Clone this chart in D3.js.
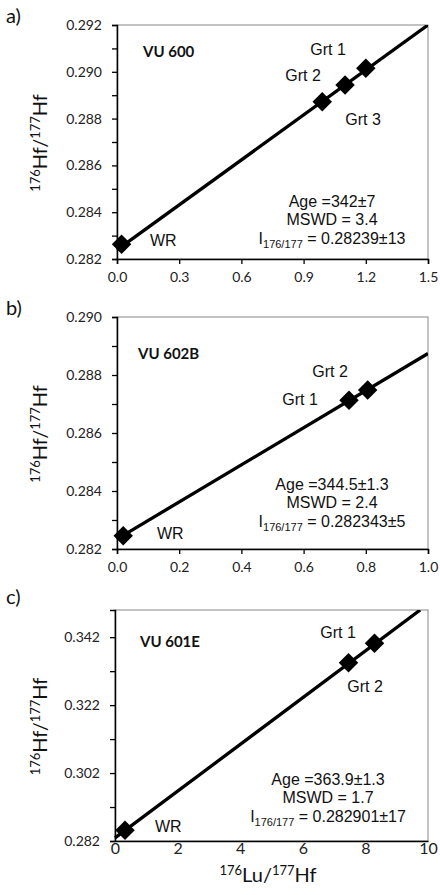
<!DOCTYPE html>
<html>
<head>
<meta charset="utf-8">
<script src="https://cdn.jsdelivr.net/npm/d3@7"></script>
<style>
  body { margin: 0; background: #fff; }
  .tick text { font-family: Lato, "Open Sans", sans-serif; font-size: 14px; fill: #222; }
  .big .tick text { font-size: 16px; }
  .note { font-family: "Liberation Sans", Arial, sans-serif; font-size: 16px; fill: #111; }
  .title { font-family: Lato, sans-serif; font-weight: bold; font-size: 15px; fill: #111; }
  .axtitle { font-family: Lato, "Open Sans", sans-serif; font-size: 20px; fill: #111; }
  .letter { font-family: Lato, "Open Sans", sans-serif; font-size: 20px; fill: #111; }
</style>
</head>
<body>
<div id="chart"></div>
<script>
// data
var samples = ["VU 600", "VU 602B", "VU 601E"];
var panelLetters = ["a)", "b)", "c)"];

var pointNames = [
  ["WR", "Grt 2", "Grt 3", "Grt 1"],
  ["WR", "Grt 1", "Grt 2"],
  ["WR", "Grt 2", "Grt 1"]
];
var luHf = [
  [0.022, 0.99, 1.10, 1.20],
  [0.02, 0.746, 0.806],
  [0.32, 7.46, 8.29]
];
var hfHf = [
  [0.28263, 0.28872, 0.28944, 0.29015],
  [0.28246, 0.28713, 0.28748],
  [0.28515, 0.33448, 0.34020]
];
// isochron line end points
var lineX = [[0.0, 1.5], [0.0, 1.0], [0.0, 9.75]];
var lineY = [[0.28239, 0.29200], [0.282343, 0.28874], [0.28290, 0.35000]];

var ages = ["342±7", "344.5±1.3", "363.9±1.3"];
var mswd = ["3.4", "2.4", "1.7"];
var initial = ["0.28239±13", "0.282343±5", "0.282901±17"];

var xDomains = [[0, 1.5], [0, 1.0], [0, 10]];
var yDomains = [[0.282, 0.292], [0.282, 0.290], [0.282, 0.350]];
var xTicks = [[0, 0.3, 0.6, 0.9, 1.2, 1.5], [0, 0.2, 0.4, 0.6, 0.8, 1.0], [0, 2, 4, 6, 8, 10]];
var yTicks = [
  [0.282, 0.283, 0.284, 0.285, 0.286, 0.287, 0.288, 0.289, 0.290, 0.291, 0.292],
  [0.282, 0.283, 0.284, 0.285, 0.286, 0.287, 0.288, 0.289, 0.290],
  [0.282, 0.292, 0.302, 0.312, 0.322, 0.332, 0.342]
];
var yLabelled = [
  [0.282, 0.284, 0.286, 0.288, 0.290, 0.292],
  [0.282, 0.284, 0.286, 0.288, 0.290],
  [0.282, 0.302, 0.322, 0.342]
];
var xFormats = [".1f", ".1f", "d"];

var svg = d3.select("#chart").append("svg")
  .attr("width", 440)
  .attr("height", 895);

// layout of the three panels
var boxes = [
  { left: 117, right: 428, top: 25, bottom: 259, letterY: 23 },
  { left: 117, right: 428, top: 317, bottom: 549, letterY: 315 },
  { left: 115, right: 428, top: 610, bottom: 841, letterY: 604 }
];
// text spots, relative to the plot's top-left corner
var spots = [
  { title: [26, 32], names: [[33, 221, "start"], [186, 56, "middle"], [246, 100, "middle"], [211, 30, "middle"]], note: [215, 182] },
  { title: [21, 42], names: [[40, 222, "start"], [183, 88, "middle"], [213, 60, "middle"]], note: [215, 173] },
  { title: [25, 37], names: [[40, 222, "start"], [250, 82, "middle"], [223, 28, "middle"]], note: [213, 175] }
];

var diamond = d3.symbol().type(d3.symbolSquare).size(190);

boxes.forEach(function(b, i) {
  var w = b.right - b.left, h = b.bottom - b.top;
  var g = svg.append("g").attr("transform", `translate(${b.left}, ${b.top})`);

  var x = d3.scaleLinear().domain(xDomains[i]).range([0, w]);
  var y = d3.scaleLinear().domain(yDomains[i]).range([h, 0]);

  // frame
  g.append("rect")
    .attr("x", 0).attr("y", 0).attr("width", w).attr("height", h)
    .style("fill", "none").style("stroke", "#888").style("stroke-width", 1);

  var fy = d3.format(".3f");
  var yAxis = g.append("g")
    .call(d3.axisLeft(y).tickValues(yTicks[i]).tickSize(5).tickPadding(10)
      .tickFormat(function(d) {
        var on = yLabelled[i].some(function(v) { return Math.abs(v - d) < 1e-7; });
        return on ? fy(d) : "";
      }));
  yAxis.select(".domain").style("stroke", "#000").style("stroke-width", 1.5);
  yAxis.selectAll(".tick line").style("stroke", "#000").style("stroke-width", 1.3);

  var xAxis = g.append("g")
    .classed("big", i === 2)
    .attr("transform", `translate(0, ${h})`)
    .call(d3.axisBottom(x).tickValues(xTicks[i]).tickSize(i === 2 ? 0 : 5)
      .tickPadding(i === 2 ? 2 : 8).tickFormat(d3.format(xFormats[i])));
  xAxis.select(".domain").style("stroke", "#000").style("stroke-width", 1.5);
  xAxis.selectAll(".tick line").style("stroke", "#000").style("stroke-width", 1.3);

  // isochron
  var clipId = "clip" + i;
  g.append("clipPath").attr("id", clipId)
    .append("rect").attr("x", -2).attr("y", 0).attr("width", w + 2).attr("height", h);
  var pts = lineX[i].map(function(v, k) { return [v, lineY[i][k]]; });
  g.append("path")
    .attr("clip-path", `url(#${clipId})`)
    .attr("d", d3.line().x(d => x(d[0])).y(d => y(d[1]))(pts))
    .style("fill", "none").style("stroke", "#000").style("stroke-width", 3.3);

  // points
  g.selectAll(".pt")
    .data(luHf[i].map(function(v, k) { return [v, hfHf[i][k]]; }))
    .enter().append("path")
    .attr("class", "pt")
    .attr("d", diamond)
    .attr("transform", d => `translate(${x(d[0])}, ${y(d[1])}) rotate(45)`)
    .style("fill", "#000");

  var s = spots[i];
  g.append("text").attr("class", "title")
    .attr("x", s.title[0]).attr("y", s.title[1]).text(samples[i]);

  pointNames[i].forEach(function(n, k) {
    g.append("text").attr("class", "note")
      .attr("x", s.names[k][0]).attr("y", s.names[k][1])
      .attr("text-anchor", s.names[k][2]).text(n);
  });

  var nt = g.append("g").attr("transform", `translate(${s.note[0]}, ${s.note[1]})`);
  nt.append("text").attr("class", "note").attr("text-anchor", "middle")
    .attr("y", 0).text("Age =" + ages[i]);
  nt.append("text").attr("class", "note").attr("text-anchor", "middle")
    .attr("y", 18).text("MSWD = " + mswd[i]);
  var it = nt.append("text").attr("class", "note").attr("text-anchor", "middle").attr("y", 37);
  it.append("tspan").text("I");
  it.append("tspan").attr("dy", 4).style("font-size", "11px").text("176/177");
  it.append("tspan").attr("dy", -4).text(" = " + initial[i]);

  // y axis title
  var yt = svg.append("text").attr("class", "axtitle")
    .attr("text-anchor", "middle")
    .attr("transform", `translate(47, ${(b.top + b.bottom) / 2 + 1}) rotate(-90)`);
  yt.append("tspan").attr("dy", -7).style("font-size", "13px").text("176");
  yt.append("tspan").attr("dy", 7).text("Hf/");
  yt.append("tspan").attr("dy", -7).style("font-size", "13px").text("177");
  yt.append("tspan").attr("dy", 7).text("Hf");

  svg.append("text").attr("class", "letter")
    .attr("x", 6).attr("y", b.letterY).text(panelLetters[i]);
});

// x axis title under the last panel
var xt = svg.append("text").attr("class", "axtitle")
  .attr("text-anchor", "middle")
  .attr("transform", "translate(268, 882)");
xt.append("tspan").attr("dy", -7).style("font-size", "13px").text("176");
xt.append("tspan").attr("dy", 7).text("Lu/");
xt.append("tspan").attr("dy", -7).style("font-size", "13px").text("177");
xt.append("tspan").attr("dy", 7).text("Hf");
</script>
</body>
</html>
